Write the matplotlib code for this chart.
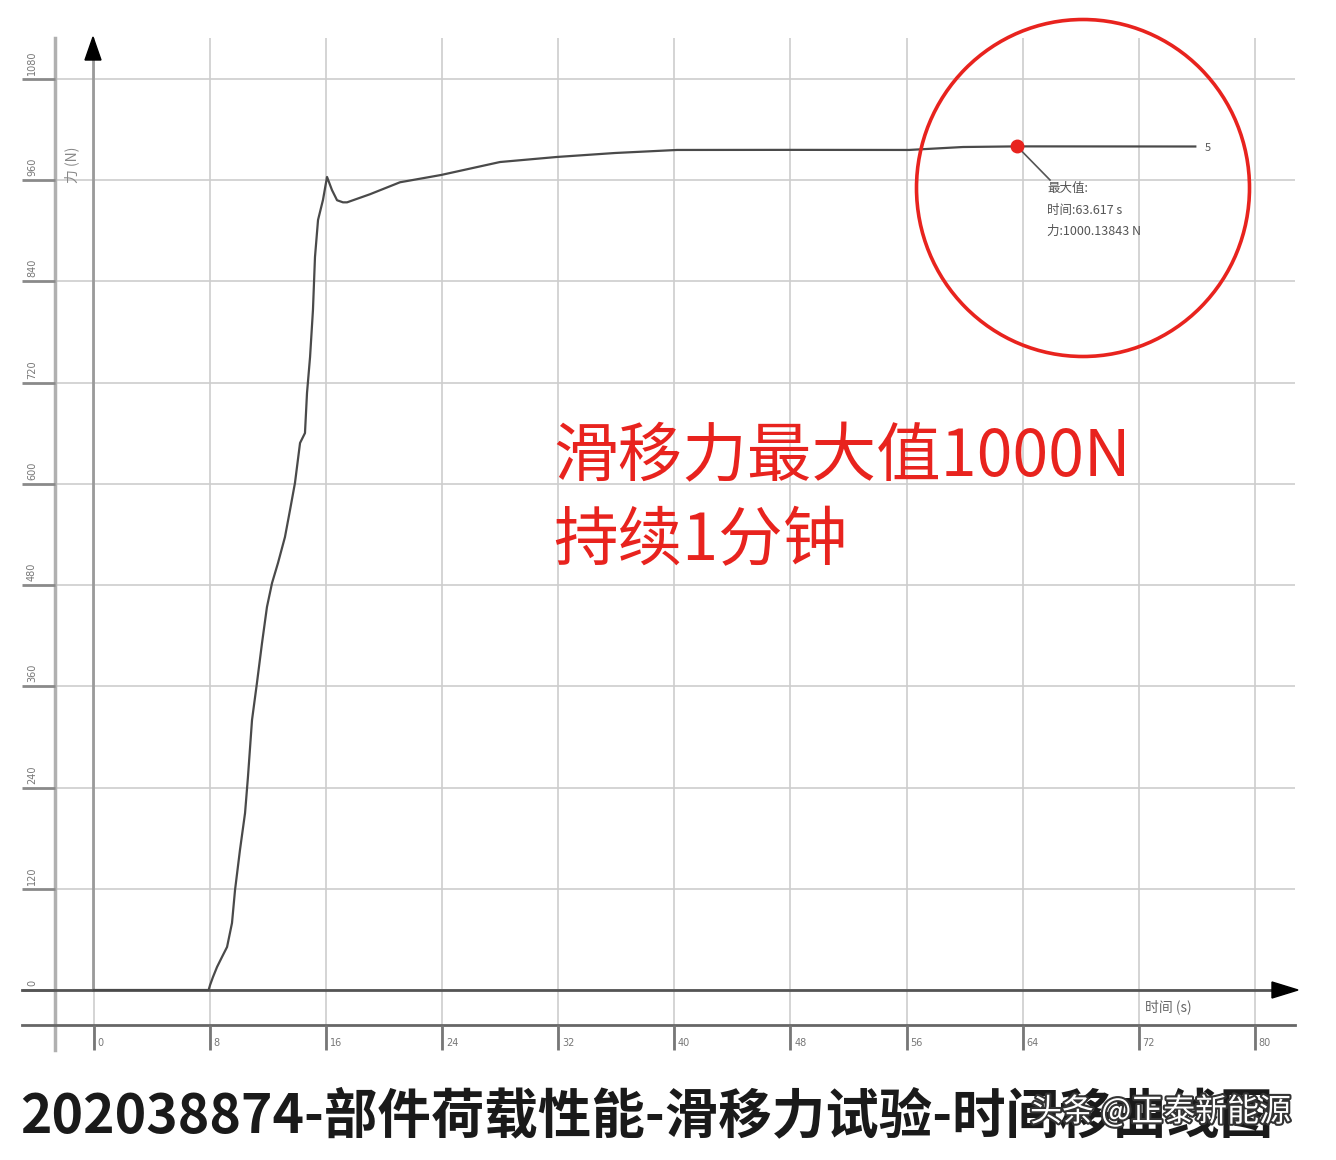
import numpy as np
import matplotlib
matplotlib.use('Agg')
import matplotlib.pyplot as plt
from matplotlib.patches import Ellipse, Polygon
import matplotlib.patheffects as pe

plt.rcParams['font.family'] = ['Noto Sans CJK SC', 'DejaVu Sans']

# 曲线数据：时间 (s) 与 力 (N)
time_s = [0, 4, 7.9, 8.0, 8.2, 8.48, 8.82, 9.17, 9.51, 9.72, 10.06, 10.41, 10.61,
          10.89, 11.23, 11.58, 11.92, 12.27, 12.68, 13.16, 13.51, 13.85, 14.2, 14.54,
          14.68, 14.89, 15.09, 15.23, 15.44, 15.78, 16.06, 16.4, 16.75, 17.16, 17.44,
          19.02, 21.09, 23.91, 27.98, 31.91, 35.91, 40.18, 48.0, 56.17, 59.89, 63.617, 75.9]
force_n = [0, 0, 0, 5.9, 15.4, 27.3, 39.1, 51.0, 79.4, 118.6, 166.0, 209.8, 252.5,
           320.1, 364.0, 411.4, 454.1, 482.5, 506.2, 537.0, 569.1, 601.1, 648.5, 660.3,
           707.8, 750.4, 806.2, 869.0, 912.9, 936.6, 963.9, 948.4, 936.3, 933.8, 933.8,
           943.4, 957.6, 966.2, 981.6, 987.6, 992.3, 995.9, 996.0, 995.9, 999.4, 1000.14, 1000.0]

max_t = 63.617
max_f = 1000.13843

x_ticks = [0, 8, 16, 24, 32, 40, 48, 56, 64, 72, 80]
x_tick_labels = ['0', '8', '16', '24', '32', '40', '48', '56', '64', '72', '80']
y_ticks = [0, 120, 240, 360, 480, 600, 720, 840, 960, 1080]
y_tick_labels = ['0', '120', '240', '360', '480', '600', '720', '840', '960', '1080']

# 像素 -> 数据 坐标换算（整张图一个坐标系）
PX_PER_S = 14.51
PX_PER_N = 0.8435
X0, Y0 = 94, 990


def tx(px):
    return (px - X0) / PX_PER_S


def vy(py):
    return (Y0 - py) / PX_PER_N


fig = plt.figure(figsize=(13.36, 11.6), dpi=100)
ax = fig.add_axes([0, 0, 1, 1])
ax.set_xlim(tx(0), tx(1336))
ax.set_ylim(vy(1160), vy(0))
ax.axis('off')

grid_c = '#cdcdcd'
# 网格线
ax.vlines(x_ticks, vy(1050), vy(38), color=grid_c, lw=1.2, zorder=1)
ax.hlines(y_ticks, tx(55), tx(1295), color=grid_c, lw=1.2, zorder=1)

# 左侧外轴与刻度
ax.plot([tx(55), tx(55)], [vy(1050), vy(38)], color='#b0b0b0', lw=2.5, zorder=2)
ax.hlines(y_ticks, tx(22), tx(55), color='#8a8a8a', lw=2, zorder=2)
for v, lab in zip(y_ticks, y_tick_labels):
    ax.text(tx(32), v + vy(986), lab, rotation=90, ha='center', va='bottom',
            fontsize=7, color='#777777', family=['DejaVu Sans'])

# 底部轴与刻度
ax.plot([tx(22), tx(1295)], [vy(1025), vy(1025)], color='#666666', lw=2, zorder=2)
ax.vlines(x_ticks, vy(1050), vy(1025), color='#777777', lw=2, zorder=2)
for t, lab in zip(x_ticks, x_tick_labels):
    ax.text(t + 0.25, vy(1043), lab, ha='left', va='center', fontsize=7,
            color='#777777', family=['DejaVu Sans'])

# 带箭头的坐标轴
ax.plot([tx(93), tx(93)], [vy(990), vy(55)], color='#9a9a9a', lw=2, zorder=2)
ax.add_patch(Polygon([[tx(85), vy(60)], [tx(101), vy(60)], [tx(93), vy(37)]],
                     closed=True, color='black', zorder=3))
ax.plot([tx(22), tx(1280)], [vy(990), vy(990)], color='#555555', lw=2, zorder=2)
ax.add_patch(Polygon([[tx(1272), vy(982)], [tx(1272), vy(998)], [tx(1298), vy(990)]],
                     closed=True, color='black', zorder=3))

ax.text(tx(72), vy(165), '力 (N)', rotation=90, ha='center', va='center',
        fontsize=10, color='#888888')
ax.text(tx(1145), vy(1007), '时间 (s)', ha='left', va='center', fontsize=10,
        color='#666666')

# 曲线
ax.plot(time_s, force_n, color='#4a4a4a', lw=1.6, zorder=4)
ax.text(tx(1205), vy(148), '5', ha='left', va='center', fontsize=8, color='#555555')

# 最大值标注
ax.plot([max_t], [max_f], 'o', color='#e8231e', ms=9, zorder=6)
ax.plot([max_t, tx(1050)], [max_f, vy(180)], color='#555555', lw=1.2, zorder=5)
ax.text(tx(1047), vy(188), '最大值:', fontsize=9, color='#555555', va='center')
ax.text(tx(1047), vy(210), f'时间:{max_t} s', fontsize=9, color='#555555', va='center')
ax.text(tx(1047), vy(231), f'力:{max_f} N', fontsize=9, color='#555555', va='center')

ax.add_patch(Ellipse((tx(1083), vy(188)), 333 / PX_PER_S, 337 / PX_PER_N,
                     fill=False, edgecolor='#e8231e', lw=2.6, zorder=6))

# 红色说明文字
ax.text(tx(553), vy(458), '滑移力最大值1000N', fontsize=46.5, color='#e8231e',
        ha='left', va='center')
ax.text(tx(553), vy(542), '持续1分钟', fontsize=46.5, color='#e8231e',
        ha='left', va='center')

# 底部标题
ax.text(tx(20), vy(1117), '202038874-部件荷载性能-滑移力试验-时间移曲线图',
        fontsize=38.5, fontweight='bold', color='#1a1a1a', ha='left', va='center')
ax.text(tx(1030), vy(1112), '头条 @正泰新能源', fontsize=23, color='white',
        ha='left', va='center',
        path_effects=[pe.withStroke(linewidth=3, foreground='#333333')])

fig.savefig('out.png', dpi=100, facecolor='white')
